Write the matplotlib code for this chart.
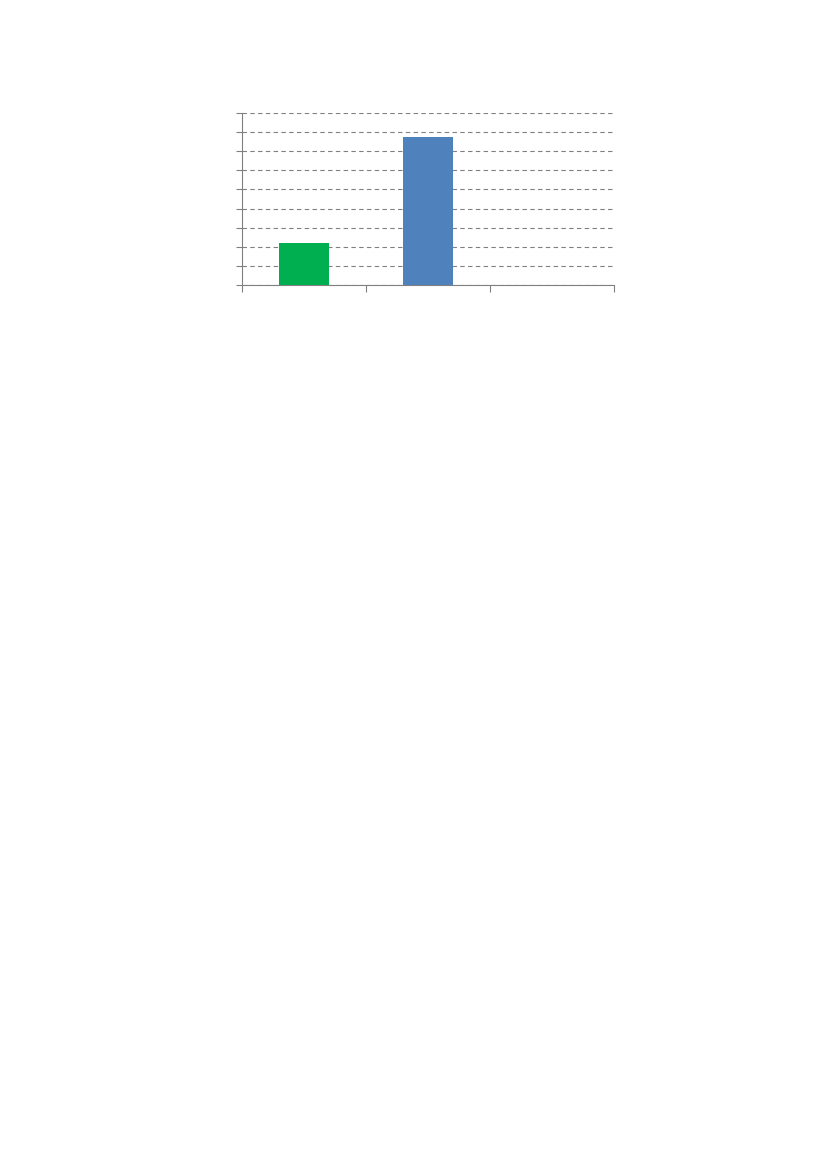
import matplotlib
matplotlib.use("Agg")
import matplotlib.pyplot as plt
import numpy as np

categories = ["A", "B", "C"]
values = [2.2, 7.75, 0.0]
colors = ["#00B050", "#4F81BD", "#4F81BD"]
y_ticks = list(range(0, 10))

fig = plt.figure(figsize=(8.27, 11.69), dpi=100)
ax = fig.add_axes([242/827, 1-285/1169, (614-242)/827, (285-113)/1169])

x = np.arange(len(categories)) + 0.5
ax.bar(x, values, width=0.4, color=colors, zorder=3)
ax.set_xlim(0, 3)
ax.set_ylim(0, 9)
ax.set_yticks(y_ticks)
ax.set_xticks([0, 1, 2, 3])
ax.set_xticklabels([])
ax.set_yticklabels([])
ax.grid(axis="y", linestyle=(0, (4, 3)), color="#808080", linewidth=0.8, zorder=0)
for s in ["top", "right"]:
    ax.spines[s].set_visible(False)
for s in ["left", "bottom"]:
    ax.spines[s].set_color("#808080")
    ax.spines[s].set_linewidth(0.8)
ax.tick_params(axis="y", direction="out", length=4, color="#808080", width=0.8)
ax.tick_params(axis="x", direction="out", length=5, color="#808080", width=0.8)

fig.savefig("out.png", dpi=100)
